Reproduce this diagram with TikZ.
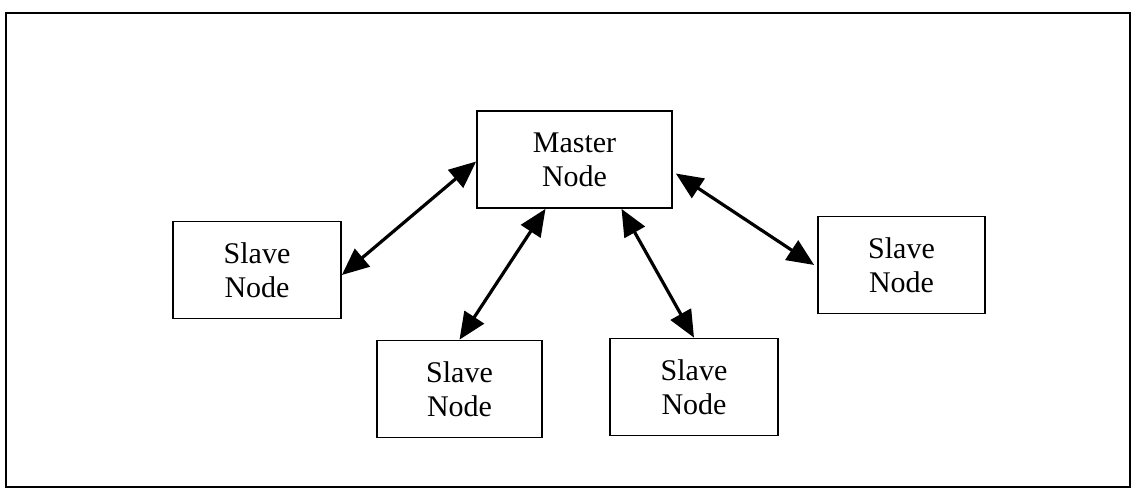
\documentclass[tikz,border=0pt]{standalone}
\usepackage{fontspec}
\setmainfont{Liberation Serif}
\usetikzlibrary{arrows.meta}
\tikzset{
  box/.style={draw, line width=1.7pt, inner sep=0pt, minimum height=97pt,
              align=center, font=\fontsize{30}{34}\selectfont},
  link/.style={line width=3.2pt, {Triangle[length=27pt,width=23pt]}-{Triangle[length=27pt,width=23pt]}}
}
\begin{document}
\begin{tikzpicture}[x=1pt, y=-1pt]
  \useasboundingbox (0,0) rectangle (1133,490);
  % outer frame
  \draw[line width=1.8pt] (6,13) rectangle (1130,487);

  % nodes
  \node[box, minimum width=195pt] (master) at (574.5,159.5) {Master\\Node};
  \node[box, minimum width=168pt] (left)   at (257,270)   {Slave\\Node};
  \node[box, minimum width=165pt] (botl)   at (459.5,389) {Slave\\Node};
  \node[box, minimum width=168pt] (botr)   at (694,387)   {Slave\\Node};
  \node[box, minimum width=167pt] (right)  at (901.5,265) {Slave\\Node};

  % bidirectional links
  \draw[link] ([yshift=-2pt]master.west) -- ([yshift=-5pt]left.east);
  \draw[link] ([xshift=-29pt]master.south) -- (botl.north);
  \draw[link] ([xshift=47pt]master.south) -- (botr.north);
  \draw[link] ([xshift=3pt,yshift=-14pt]master.east) -- ([xshift=-3pt]right.west);
\end{tikzpicture}
\end{document}
